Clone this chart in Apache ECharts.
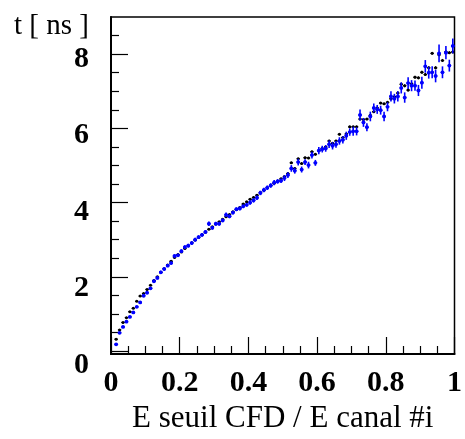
<!DOCTYPE html>
<html>
<head>
<meta charset="utf-8">
<script src="https://cdn.jsdelivr.net/npm/echarts@6/dist/echarts.min.js"></script>
<style>html,body{margin:0;padding:0;background:#fff;}#c{width:465px;height:439px;}</style>
</head>
<body>
<div id="c"></div>
<script>
// bin centres
const xBins = [0.015,0.025,0.035,0.045,0.055,0.065,0.075,0.085,0.095,0.105,0.115,0.125,0.135,0.145,0.155,0.165,0.175,0.185,0.195,0.205,0.215,0.225,0.235,0.245,0.255,0.265,0.275,0.285,0.295,0.305,0.315,0.325,0.335,0.345,0.355,0.365,0.375,0.385,0.395,0.405,0.415,0.425,0.435,0.445,0.455,0.465,0.475,0.485,0.495,0.505,0.515,0.525,0.535,0.545,0.555,0.565,0.575,0.585,0.595,0.605,0.615,0.625,0.635,0.645,0.655,0.665,0.675,0.685,0.695,0.705,0.715,0.725,0.735,0.745,0.755,0.765,0.775,0.785,0.795,0.805,0.815,0.825,0.835,0.845,0.855,0.865,0.875,0.885,0.895,0.905,0.915,0.925,0.935,0.945,0.955,0.965,0.975,0.985,0.995];
const xHalfWidth = 0.005;

const blackT = [0.32,0.57,0.77,0.90,1.06,1.15,1.34,1.48,1.55,1.66,1.77,1.90,2.00,2.12,2.22,2.32,2.42,2.52,2.60,2.67,2.76,2.84,2.92,2.99,3.06,3.13,3.20,3.28,3.35,3.42,3.48,3.55,3.62,3.68,3.75,3.81,3.87,3.96,4.02,4.09,4.14,4.20,4.27,4.33,4.40,4.46,4.52,4.58,4.64,4.70,4.78,5.07,4.92,5.18,5.05,5.21,5.20,5.37,5.30,5.40,5.46,5.50,5.66,5.60,5.66,5.84,5.75,5.85,6.04,6.04,6.04,6.25,6.24,6.25,6.35,6.45,6.55,6.68,6.66,6.70,6.80,6.85,6.95,7.19,7.15,7.03,7.20,7.38,7.36,7.51,7.45,7.63,8.02,7.63,7.98,7.83,8.06,8.04,8.06];
const blackErr = [0.02,0.02,0.02,0.02,0.02,0.02,0.02,0.02,0.02,0.02,0.02,0.02,0.02,0.02,0.02,0.02,0.02,0.02,0.02,0.02,0.02,0.02,0.02,0.02,0.02,0.02,0.02,0.02,0.02,0.02,0.02,0.02,0.02,0.02,0.02,0.02,0.02,0.02,0.02,0.02,0.03,0.03,0.03,0.03,0.03,0.03,0.03,0.03,0.03,0.03,0.03,0.03,0.03,0.03,0.03,0.03,0.03,0.03,0.03,0.03,0.03,0.03,0.03,0.03,0.03,0.03,0.03,0.03,0.03,0.03,0.03,0.03,0.03,0.03,0.03,0.03,0.03,0.03,0.03,0.03,0.04,0.04,0.04,0.04,0.04,0.04,0.04,0.04,0.04,0.04,0.04,0.04,0.04,0.04,0.04,0.04,0.04,0.04,0.04];

const blueT = [0.18,0.49,0.65,0.79,0.92,1.04,1.19,1.31,1.49,1.57,1.69,1.88,1.97,2.12,2.21,2.30,2.37,2.56,2.58,2.69,2.80,2.84,2.91,3.00,3.07,3.13,3.21,3.43,3.32,3.43,3.43,3.52,3.67,3.63,3.73,3.82,3.84,3.90,3.94,4.00,4.06,4.13,4.26,4.34,4.40,4.46,4.54,4.57,4.59,4.66,4.74,4.92,4.86,5.09,4.89,5.09,5.01,5.28,5.07,5.40,5.44,5.46,5.57,5.53,5.57,5.66,5.69,5.80,5.90,5.92,5.92,6.36,6.16,6.03,6.32,6.55,6.51,6.49,6.32,6.58,6.86,6.80,6.86,7.09,6.83,7.22,7.15,7.15,7.02,7.23,7.67,7.50,7.51,7.41,8.02,7.51,8.04,7.69,8.22];
const blueErr = [0.03,0.03,0.03,0.03,0.03,0.03,0.03,0.03,0.03,0.03,0.03,0.04,0.04,0.04,0.04,0.04,0.04,0.04,0.04,0.05,0.05,0.05,0.05,0.05,0.05,0.05,0.05,0.06,0.05,0.05,0.05,0.05,0.06,0.05,0.05,0.05,0.05,0.05,0.05,0.06,0.06,0.06,0.06,0.06,0.06,0.06,0.07,0.06,0.06,0.08,0.08,0.09,0.08,0.09,0.08,0.08,0.09,0.09,0.08,0.10,0.09,0.09,0.10,0.10,0.09,0.10,0.10,0.11,0.10,0.12,0.11,0.15,0.12,0.11,0.13,0.12,0.12,0.12,0.13,0.12,0.14,0.13,0.14,0.15,0.14,0.16,0.15,0.14,0.15,0.16,0.17,0.16,0.16,0.17,0.24,0.16,0.18,0.16,0.20];

const yMajorTicks = [0,2,4,6,8];
const yMinorTicks = [0.5,1,1.5,2.5,3,3.5,4.5,5,5.5,6.5,7,7.5,8.5];

function rows(t, e) { return xBins.map((x, i) => [x, t[i], e[i]]); }

function makeRender(color, r, lw) {
  return function (params, api) {
    const x = api.value(0), y = api.value(1), e = api.value(2);
    const c = api.coord([x, y]);
    const top = api.coord([x, y + e]);
    const bot = api.coord([x, y - e]);
    const lft = api.coord([x - xHalfWidth, y]);
    const rgt = api.coord([x + xHalfWidth, y]);
    return {
      type: 'group',
      children: [
        { type: 'line', shape: { x1: c[0], y1: top[1], x2: c[0], y2: bot[1] }, style: { stroke: color, lineWidth: lw } },
        { type: 'line', shape: { x1: lft[0], y1: c[1], x2: rgt[0], y2: c[1] }, style: { stroke: color, lineWidth: lw } },
        { type: 'circle', shape: { cx: c[0], cy: c[1], r: r }, style: { fill: color } }
      ]
    };
  };
}

const serif = '"Liberation Serif", "Times New Roman", serif';
const chart = echarts.init(document.getElementById('c'), null, { renderer: 'canvas' });
chart.setOption({
  animation: false,
  backgroundColor: '#fff',
  title: {
    text: 't [ ns ]', left: 9, top: 7,
    textStyle: { fontFamily: serif, fontWeight: 'normal', fontSize: 29, color: '#000' }
  },
  grid: [
    { left: 111, right: 6, top: 17, bottom: 75, show: true, borderColor: '#000', borderWidth: 1.5, backgroundColor: 'transparent' },
    // label-only grid, same scale, nudged a few pixels lower like the original typesetting
    { left: 111, right: 6, top: 21, bottom: 71, show: false }
  ],
  xAxis: [
    {
      type: 'value', gridIndex: 0, min: 0, max: 1, interval: 0.2,
      name: 'E seuil CFD / E canal #i', nameLocation: 'middle', nameGap: 49,
      nameTextStyle: { fontFamily: serif, fontSize: 31, color: '#000' },
      axisLine: { show: true, onZero: false, lineStyle: { color: '#000', width: 2 } },
      axisTick: { show: true, inside: true, length: 17, lineStyle: { color: '#000', width: 1.2 } },
      minorTick: { show: true, splitNumber: 4, length: 8, lineStyle: { color: '#000', width: 1.2 } },
      axisLabel: { margin: 14, fontFamily: serif, fontWeight: 'bold', fontSize: 30, color: '#000' },
      splitLine: { show: false }, minorSplitLine: { show: false }
    },
    { type: 'value', gridIndex: 1, min: 0, max: 1, show: false }
  ],
  yAxis: [
    {
      type: 'value', gridIndex: 0, min: -0.08, max: 9, position: 'left',
      axisLine: { show: true, onZero: false, lineStyle: { color: '#000', width: 2 } },
      axisTick: { show: true, inside: true, length: 17, customValues: yMajorTicks, lineStyle: { color: '#000', width: 1.2 } },
      axisLabel: { show: false },
      splitLine: { show: false }
    },
    {
      type: 'value', gridIndex: 0, min: -0.08, max: 9, position: 'left', offset: 0,
      axisLine: { show: false },
      axisTick: { show: true, inside: true, length: 8, customValues: yMinorTicks, lineStyle: { color: '#000', width: 1.2 } },
      axisLabel: { show: false },
      splitLine: { show: false }
    },
    {
      type: 'value', gridIndex: 1, min: -0.08, max: 9, position: 'left',
      axisLine: { show: false },
      axisTick: { show: false },
      axisLabel: { show: true, customValues: yMajorTicks, margin: 22, fontFamily: serif, fontWeight: 'bold', fontSize: 30, color: '#000' },
      splitLine: { show: false }
    }
  ],
  series: [
    { type: 'custom', name: 'black', xAxisIndex: 0, yAxisIndex: 0, renderItem: makeRender('#000000', 1.5, 1.1), data: rows(blackT, blackErr), clip: true },
    { type: 'custom', name: 'blue', xAxisIndex: 0, yAxisIndex: 0, renderItem: makeRender('#0000ff', 1.9, 1.6), data: rows(blueT, blueErr), clip: true }
  ]
});
</script>
</body>
</html>
